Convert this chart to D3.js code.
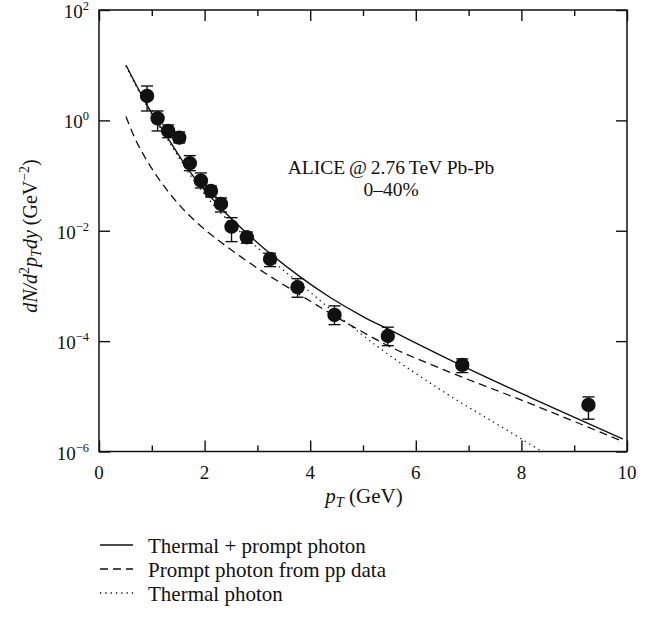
<!DOCTYPE html>
<html>
<head>
<meta charset="utf-8">
<script src="https://cdn.jsdelivr.net/npm/d3@7"></script>
<style>
  html, body { margin: 0; padding: 0; background: #fff; }
  svg text { font-family: "Liberation Serif", "Times New Roman", serif; fill: #111; }
</style>
</head>
<body>
<svg id="chart" width="666" height="618"></svg>
<script>
// Direct photon spectrum, Pb-Pb at 2.76 TeV, 0–40% centrality
const dataPT      = [0.91, 1.11, 1.31, 1.52, 1.72, 1.93, 2.12, 2.31, 2.51, 2.80, 3.24, 3.76, 4.46, 5.47, 6.88, 9.27];
const dataYield   = [2.77, 1.09, 0.643, 0.486, 0.167, 0.0809, 0.0526, 0.0306, 0.01187, 0.00762, 0.00308, 9.5e-4, 2.98e-4, 1.24e-4, 3.71e-5, 6.98e-6];
const dataErrHigh = [4.20, 1.48, 0.826, 0.616, 0.2296, 0.1114, 0.0649, 0.0393, 0.01726, 0.0095, 0.00391, 1.355e-3, 4.35e-4, 1.79e-4, 4.77e-5, 9.75e-6];
const dataErrLow  = [1.48, 0.643, 0.486, 0.390, 0.1228, 0.0596, 0.0410, 0.0219, 0.00635, 0.00594, 0.00224, 6.24e-4, 1.99e-4, 8.28e-5, 2.69e-5, 3.85e-6];

// Model curves
const totalPT      = [0.51, 0.91, 1.31, 1.78, 2.29, 3.05, 3.81, 4.38, 5.00, 5.47, 6.88, 8.16, 9.92];
const totalYield   = [10.09, 1.90, 0.468, 0.0984, 0.0270, 5.53e-3, 1.46e-3, 6.17e-4, 2.79e-4, 1.66e-4, 3.56e-5, 9.6e-6, 1.68e-6];
const promptPT     = [0.51, 0.68, 0.90, 1.16, 1.47, 1.79, 2.04, 2.80, 3.81, 4.82, 5.51, 6.46, 8.16, 9.92];
const promptYield  = [1.17, 0.474, 0.192, 0.0798, 0.0333, 0.0160, 0.0099, 2.84e-3, 6.87e-4, 1.81e-4, 7.94e-5, 3.23e-5, 7.43e-6, 1.52e-6];
const thermalPT    = [0.51, 0.91, 1.31, 1.78, 2.29, 2.80, 3.24, 3.81, 4.63, 5.26, 6.52, 7.72, 8.39];
const thermalYield = [9.68, 1.79, 0.433, 0.0867, 0.0219, 7.41e-3, 3.08e-3, 1.09e-3, 2.42e-4, 8.18e-5, 1.22e-5, 2.46e-6, 1.0e-6];

// Axis ticks
const xMajorTicks = [0, 2, 4, 6, 8, 10];
const xMinorTicks = [1, 3, 5, 7, 9];
const yTickExponents = [2, 0, -2, -4, -6];

const legendLabels = ["Thermal + prompt photon", "Prompt photon from pp data", "Thermal photon"];
const annotationLines = ["ALICE\u2009@\u20092.76\u2009TeV Pb-Pb", "0\u201340%"];

// ---- layout ----
const plot = { left: 99, right: 627, top: 10, bottom: 451.5 };
const x = d3.scaleLinear().domain([0, 10]).range([plot.left, plot.right]);
const y = d3.scaleLog().domain([1e-6, 1e2]).range([plot.bottom, plot.top]);

const svg = d3.select("#chart");
const ink = "#111";

svg.append("defs").append("clipPath").attr("id", "plotClip")
  .append("rect")
  .attr("x", plot.left).attr("y", plot.top)
  .attr("width", plot.right - plot.left).attr("height", plot.bottom - plot.top);

// ---- axes with inward ticks on all four sides ----
function styleAxis(g) {
  g.select(".domain").remove();
  g.selectAll("line").attr("stroke", ink).attr("stroke-width", 1.4);
  g.selectAll("text").remove();
}
const majorLen = 11, minorLen = 6;
svg.append("g").attr("transform", `translate(0,${plot.bottom})`)
  .call(d3.axisBottom(x).tickValues(xMajorTicks).tickSizeInner(-majorLen).tickSizeOuter(0)).call(styleAxis);
svg.append("g").attr("transform", `translate(0,${plot.bottom})`)
  .call(d3.axisBottom(x).tickValues(xMinorTicks).tickSizeInner(-minorLen).tickSizeOuter(0)).call(styleAxis);
svg.append("g").attr("transform", `translate(0,${plot.top})`)
  .call(d3.axisTop(x).tickValues(xMajorTicks).tickSizeInner(-majorLen).tickSizeOuter(0)).call(styleAxis);
svg.append("g").attr("transform", `translate(0,${plot.top})`)
  .call(d3.axisTop(x).tickValues(xMinorTicks).tickSizeInner(-minorLen).tickSizeOuter(0)).call(styleAxis);

const yTickValues = yTickExponents.map(e => Math.pow(10, e));
svg.append("g").attr("transform", `translate(${plot.left},0)`)
  .call(d3.axisLeft(y).tickValues(yTickValues).tickSizeInner(-majorLen).tickSizeOuter(0)).call(styleAxis);
svg.append("g").attr("transform", `translate(${plot.right},0)`)
  .call(d3.axisRight(y).tickValues(yTickValues).tickSizeInner(-majorLen).tickSizeOuter(0)).call(styleAxis);

// frame
svg.append("rect")
  .attr("x", plot.left).attr("y", plot.top)
  .attr("width", plot.right - plot.left).attr("height", plot.bottom - plot.top)
  .attr("fill", "none").attr("stroke", ink).attr("stroke-width", 1.5);

// x tick labels
svg.append("g").selectAll("text").data(xMajorTicks).join("text")
  .attr("x", d => x(d)).attr("y", plot.bottom + 27)
  .attr("text-anchor", "middle").attr("font-size", 19)
  .text(d => d);

// y tick labels: 10^n
const yLab = svg.append("g").selectAll("text").data(yTickExponents).join("text")
  .attr("x", plot.left - 10).attr("y", d => y(Math.pow(10, d)) + 8)
  .attr("text-anchor", "end").attr("font-size", 19);
yLab.append("tspan").text("10");
yLab.append("tspan").attr("font-size", 12.5).attr("dy", -8)
  .text(d => (d < 0 ? "\u2212" + (-d) : String(d)));

// x axis title: p_T (GeV)
const xTitle = svg.append("text")
  .attr("x", 364).attr("y", 503).attr("text-anchor", "middle").attr("font-size", 21);
xTitle.append("tspan").attr("font-style", "italic").text("p");
xTitle.append("tspan").attr("font-style", "italic").attr("font-size", 14.5).attr("dy", 4).text("T");
xTitle.append("tspan").attr("dy", -4).text(" (GeV)");

// y axis title: dN/d^2 p_T dy (GeV^-2)
const yTitle = svg.append("text")
  .attr("transform", "translate(37,236) rotate(-90)")
  .attr("text-anchor", "middle").attr("font-size", 20);
yTitle.append("tspan").attr("font-style", "italic").text("dN/d");
yTitle.append("tspan").attr("font-size", 14).attr("dy", -8).text("2");
yTitle.append("tspan").attr("font-style", "italic").attr("dy", 8).text("p");
yTitle.append("tspan").attr("font-style", "italic").attr("font-size", 14).attr("dy", 4).text("T");
yTitle.append("tspan").attr("font-style", "italic").attr("dy", -4).text("dy");
yTitle.append("tspan").text(" (GeV");
yTitle.append("tspan").attr("font-size", 14).attr("dy", -8).text("\u22122");
yTitle.append("tspan").attr("dy", 8).text(")");

// annotation
svg.append("g").selectAll("text").data(annotationLines).join("text")
  .attr("x", 391).attr("y", (d, i) => 174 + i * 22)
  .attr("text-anchor", "middle").attr("font-size", 19.5)
  .text(d => d);

// ---- model curves ----
const line = d3.line().x(d => x(d[0])).y(d => y(d[1])).curve(d3.curveMonotoneX);
const curveStyles = [
  { dash: null, width: 1.4 },
  { dash: "8,5", width: 1.3 },
  { dash: "1.3,4", width: 1.3 }
];
const curves = [
  d3.zip(totalPT, totalYield),
  d3.zip(promptPT, promptYield),
  d3.zip(thermalPT, thermalYield)
];
const curveG = svg.append("g").attr("clip-path", "url(#plotClip)");
curves.forEach((c, i) => {
  curveG.append("path").datum(c)
    .attr("d", line)
    .attr("fill", "none").attr("stroke", ink)
    .attr("stroke-width", curveStyles[i].width)
    .attr("stroke-dasharray", curveStyles[i].dash);
});

// ---- data points with error bars ----
const pts = dataPT.map((p, i) => ({ p, v: dataYield[i], hi: dataErrHigh[i], lo: dataErrLow[i] }));
const capHalf = 6;
const eg = svg.append("g").attr("stroke", ink).attr("stroke-width", 1.4);
eg.selectAll(".bar").data(pts).join("line")
  .attr("x1", d => x(d.p)).attr("x2", d => x(d.p))
  .attr("y1", d => y(d.hi)).attr("y2", d => y(d.lo));
eg.selectAll(".capHi").data(pts).join("line")
  .attr("x1", d => x(d.p) - capHalf).attr("x2", d => x(d.p) + capHalf)
  .attr("y1", d => y(d.hi)).attr("y2", d => y(d.hi));
eg.selectAll(".capLo").data(pts).join("line")
  .attr("x1", d => x(d.p) - capHalf).attr("x2", d => x(d.p) + capHalf)
  .attr("y1", d => y(d.lo)).attr("y2", d => y(d.lo));
svg.append("g").selectAll("circle").data(pts).join("circle")
  .attr("cx", d => x(d.p)).attr("cy", d => y(d.v)).attr("r", 7.2)
  .attr("fill", ink);

// ---- legend ----
const legend = svg.append("g").selectAll("g").data(legendLabels).join("g")
  .attr("transform", (d, i) => `translate(100,${545 + i * 24})`);
legend.append("line")
  .attr("x1", 0).attr("x2", 33).attr("y1", 0).attr("y2", 0)
  .attr("stroke", ink)
  .attr("stroke-width", (d, i) => curveStyles[i].width)
  .attr("stroke-dasharray", (d, i) => curveStyles[i].dash);
legend.append("text")
  .attr("x", 48).attr("y", 7.5).attr("font-size", 21)
  .text(d => d);
</script>
</body>
</html>
